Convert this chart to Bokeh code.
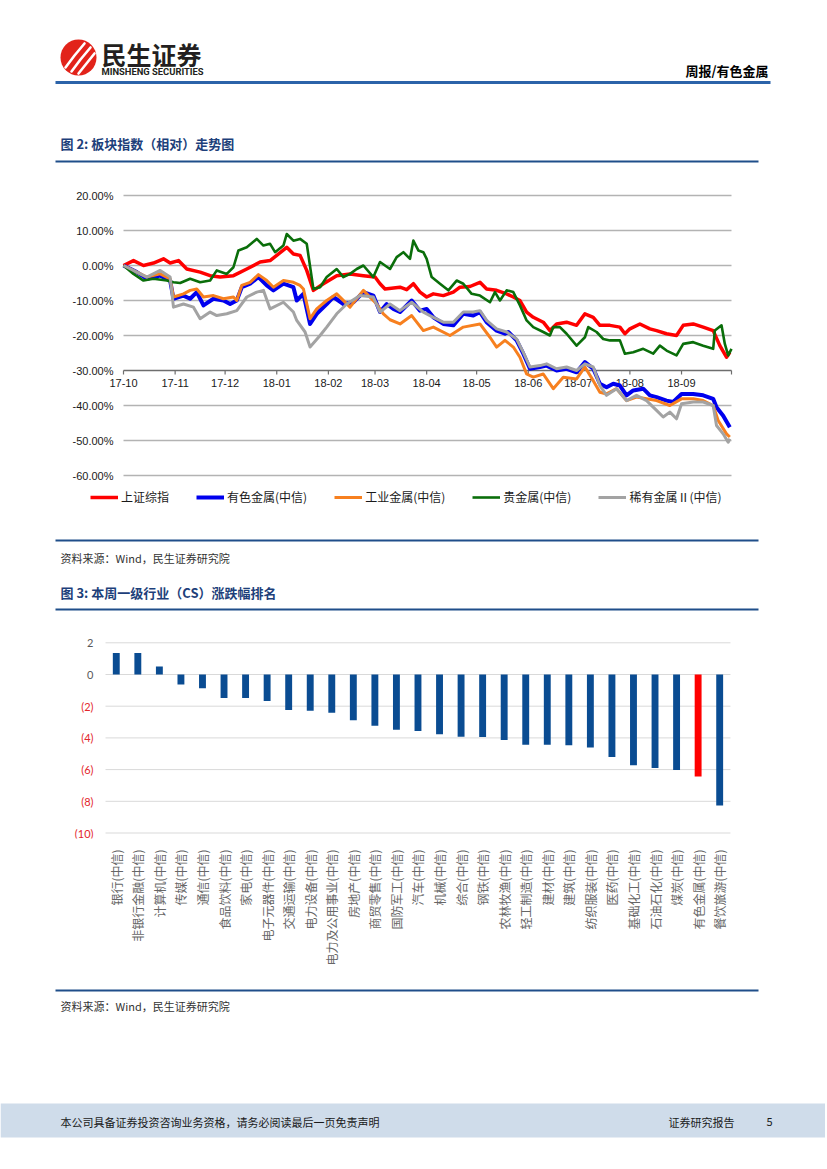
import math
from bokeh.plotting import figure
from bokeh.models import Range1d, FixedTicker, ColumnDataSource
from bokeh.layouts import column
from bokeh.embed import file_html
from bokeh.resources import INLINE
from bokeh.core.properties import value

# ---------------- data: chart 1 (days since 2017-10-01, % relative) ----------------
month_ticks = [0, 31, 61, 92, 123, 151, 182, 212, 243, 273, 304, 335]
month_labels = ["17-10", "17-11", "17-12", "18-01", "18-02", "18-03",
                "18-04", "18-05", "18-06", "18-07", "18-08", "18-09"]
period_end = 365
y1_ticks = [20, 10, 0, -10, -20, -30, -40, -50, -60]
axis_cross = -30

sh_days = [0, 6, 12, 18, 24, 28, 33, 38, 46, 52, 58, 66, 74, 82, 88, 92, 98, 102, 106, 110,
           114, 120, 128, 136, 144, 151, 154, 157, 166, 170, 174, 178, 182, 186, 192, 198, 202, 208, 214, 218,
           224, 230, 234, 238, 242, 246, 252, 256, 260, 266, 272, 277, 282, 286, 292, 298, 301, 304, 310, 316,
           320, 326, 332, 336, 342, 348, 354, 358, 362, 364]
sh_vals = [0.0, 1.4, 0.0, 0.7, 1.9, 0.7, 1.4, -1.0, -1.9, -2.9, -3.3, -2.9, -1.0, 1.0, 1.4, 2.9, 5.2, 3.3, 2.9, -1.4,
           -7.1, -5.2, -2.9, -2.4, -2.9, -3.3, -5.2, -6.7, -6.2, -6.9, -5.2, -7.6, -9.0, -8.1, -8.6, -7.6, -6.2, -6.0, -4.8, -6.7,
           -7.1, -8.1, -9.0, -10.0, -13.3, -14.8, -16.2, -18.6, -16.7, -16.2, -17.1, -13.8, -14.8, -17.1, -17.1, -17.6, -19.5, -18.1, -16.7, -18.1,
           -18.6, -19.5, -20.0, -17.1, -16.7, -17.6, -18.6, -22.9, -26.2, -24.8]

nf_days = [0, 8, 14, 22, 28, 30, 36, 40, 44, 48, 54, 60, 64, 68, 71, 76, 81, 86, 90, 96,
           102, 104, 108, 112, 116, 122, 126, 132, 138, 144, 150, 154, 158, 162, 166, 173, 178, 182, 186, 192,
           198, 204, 210, 214, 218, 224, 229, 231, 236, 240, 244, 250, 254, 260, 266, 272, 277, 282, 286, 290,
           294, 298, 302, 306, 312, 316, 320, 326, 330, 335, 342, 348, 354, 356, 360, 364]
nf_vals = [0.0, -1.9, -3.8, -2.9, -4.3, -9.5, -8.6, -9.5, -7.6, -11.4, -9.5, -10.0, -11.0, -10.0, -6.2, -5.2, -3.3, -5.7, -7.1, -5.2,
           -6.2, -10.0, -8.1, -16.7, -13.8, -11.0, -9.0, -11.0, -10.5, -7.6, -8.6, -13.3, -11.0, -12.4, -13.3, -10.0, -12.9, -12.4, -14.8, -16.7,
           -17.1, -13.8, -14.3, -13.3, -16.2, -18.6, -19.5, -19.0, -21.4, -25.2, -29.5, -29.0, -28.6, -30.0, -29.5, -30.5, -27.6, -29.5, -33.8, -34.8,
           -33.8, -34.3, -37.1, -35.7, -35.2, -37.1, -37.6, -38.6, -39.0, -36.7, -36.7, -37.1, -38.1, -40.5, -42.9, -46.2]

im_days = [0, 8, 14, 22, 28, 30, 36, 40, 44, 48, 54, 60, 66, 68, 71, 76, 81, 86, 90, 96,
           102, 106, 108, 112, 116, 122, 128, 136, 144, 152, 156, 160, 166, 173, 180, 186, 196, 204, 214, 220,
           224, 229, 234, 238, 242, 246, 252, 258, 264, 272, 277, 282, 286, 290, 296, 302, 308, 314, 320, 328,
           335, 342, 348, 354, 357, 362, 364]
im_vals = [0.0, -1.9, -3.3, -2.4, -3.8, -9.0, -8.1, -7.1, -6.7, -9.0, -8.6, -9.5, -9.0, -10.0, -5.7, -4.8, -2.6, -4.3, -6.2, -4.3,
           -4.8, -5.7, -6.7, -15.2, -12.4, -10.0, -8.1, -11.9, -7.1, -11.0, -13.8, -15.5, -16.7, -14.3, -18.6, -17.6, -20.0, -17.6, -16.7, -20.5,
           -23.3, -21.4, -23.3, -26.2, -31.0, -31.9, -31.0, -35.2, -31.9, -32.4, -29.0, -32.9, -36.2, -36.7, -35.2, -38.6, -37.6, -38.1, -38.6, -40.0,
           -38.1, -38.1, -38.6, -40.0, -44.3, -48.1, -49.0]

gd_days = [0, 6, 12, 18, 26, 30, 34, 40, 46, 52, 56, 62, 66, 69, 74, 80, 84, 88, 91, 96,
           98, 102, 106, 110, 114, 118, 122, 128, 132, 136, 140, 144, 150, 154, 160, 164, 168, 172, 174, 177,
           180, 182, 185, 190, 195, 200, 204, 209, 214, 220, 223, 226, 230, 234, 238, 242, 246, 252, 256, 258,
           262, 266, 272, 277, 279, 284, 288, 292, 298, 301, 306, 312, 318, 322, 326, 332, 336, 342, 348, 354,
           355, 359, 361, 363, 365]
gd_vals = [0.0, -2.4, -4.3, -3.8, -4.3, -4.8, -5.0, -3.8, -4.8, -4.3, -1.4, -2.4, -0.5, 4.3, 5.2, 7.6, 5.7, 6.2, 3.8, 5.7,
           9.0, 7.1, 7.6, 6.2, -6.7, -6.2, -3.3, -1.0, -3.3, -2.4, -1.0, 0.0, -3.3, 1.0, -1.0, 2.4, 3.8, 1.9, 7.1, 4.3,
           3.8, 1.9, -3.3, -5.2, -7.1, -4.3, -5.2, -8.1, -8.6, -10.5, -7.6, -10.0, -7.1, -7.6, -11.4, -15.7, -17.6, -19.0, -20.0, -17.6,
           -17.6, -19.5, -22.9, -20.5, -17.6, -19.0, -21.0, -21.4, -21.4, -25.2, -24.8, -23.8, -25.2, -22.9, -24.3, -25.7, -22.4, -21.9, -22.9, -23.8,
           -18.6, -17.1, -22.4, -25.7, -23.8]

rm_days = [0, 8, 14, 22, 28, 30, 36, 42, 46, 52, 56, 62, 68, 74, 80, 84, 88, 96, 102, 104,
           109, 112, 118, 122, 128, 134, 142, 150, 154, 160, 166, 173, 180, 186, 192, 198, 204, 210, 214, 218,
           224, 230, 236, 240, 244, 250, 254, 260, 266, 272, 277, 282, 286, 290, 296, 302, 308, 314, 320, 324,
           328, 332, 335, 342, 348, 354, 356, 360, 363, 364]
rm_vals = [0.0, -1.9, -3.3, -1.4, -3.3, -11.9, -11.0, -11.9, -15.2, -13.3, -14.3, -13.8, -12.9, -9.0, -7.6, -7.1, -12.4, -10.5, -13.3, -15.7,
           -19.0, -23.3, -20.0, -17.6, -13.8, -11.0, -8.6, -9.0, -13.3, -11.0, -12.9, -10.5, -13.3, -14.8, -16.2, -16.2, -13.3, -13.3, -12.9, -15.7,
           -18.1, -19.0, -21.0, -24.8, -29.0, -28.6, -28.1, -29.5, -29.0, -30.0, -28.1, -29.0, -34.3, -37.1, -35.2, -38.6, -37.1, -38.6, -41.4, -43.3,
           -41.9, -43.8, -39.5, -39.0, -39.0, -40.0, -45.7, -48.1, -50.5, -49.5]

series_names = ["上证综指", "有色金属(中信)", "工业金属(中信)", "贵金属(中信)", "稀有金属Ⅱ(中信)"]

# ---------------- data: chart 2 ----------------
industries = ["银行(中信)", "非银行金融(中信)", "计算机(中信)", "传媒(中信)", "通信(中信)",
              "食品饮料(中信)", "家电(中信)", "电子元器件(中信)", "交通运输(中信)", "电力设备(中信)",
              "电力及公用事业(中信)", "房地产(中信)", "商贸零售(中信)", "国防军工(中信)", "汽车(中信)",
              "机械(中信)", "综合(中信)", "钢铁(中信)", "农林牧渔(中信)", "轻工制造(中信)",
              "建材(中信)", "建筑(中信)", "纺织服装(中信)", "医药(中信)", "基础化工(中信)",
              "石油石化(中信)", "煤炭(中信)", "有色金属(中信)", "餐饮旅游(中信)"]
weekly_change = [1.36, 1.36, 0.50, -0.63, -0.86, -1.49, -1.49, -1.67, -2.24, -2.28,
                 -2.41, -2.89, -3.24, -3.49, -3.56, -3.77, -3.93, -3.95, -4.14, -4.44,
                 -4.44, -4.46, -4.60, -5.21, -5.73, -5.90, -6.03, -6.44, -8.26]
highlight = "有色金属(中信)"
y2_ticks = [2, 0, -2, -4, -6, -8, -10]

# ---------------- styling ----------------
W = 825
CJK = "Noto Sans CJK SC"
NAVY = "#1d3f7a"
RULE = "#1f4e8a"


def deco(top, bottom):
    p = figure(width=W, height=bottom - top, x_range=Range1d(0, W), y_range=Range1d(bottom, top),
               output_backend="svg", toolbar_location=None, min_border=0,
               x_axis_location=None, y_axis_location=None)
    p.grid.visible = False
    p.outline_line_color = None
    p.background_fill_color = "white"
    p.border_fill_color = "white"
    return p


def txt(p, x, y, s, size, color="#000000", font=CJK, bold=False, align="left"):
    p.text(x=[x], y=[y], text=[s], text_font=value(font), text_font_size=f"{size}px",
           text_color=color, text_align=align, text_baseline="middle",
           text_font_style="bold" if bold else "normal")


def rule(p, x0, x1, y, color=RULE, width=2):
    p.segment(x0=[x0], x1=[x1], y0=[y], y1=[y], line_color=color, line_width=width)


# ---------------- header + title 1 ----------------
pa = deco(0, 170)
pa.circle(x=[78], y=[57], radius=18, fill_color="#e2231a", line_color=None)
pa.multi_line(xs=[[65, 74, 84], [71, 80, 90], [78, 86, 94]],
              ys=[[67, 55, 43], [71, 59, 47], [73, 63, 53]],
              line_color="white", line_width=2.6, line_cap="round")
txt(pa, 101, 53, "民生证券", 25, "#231f20", bold=True)
txt(pa, 101, 71, "MINSHENG SECURITIES", 9.4, "#231f20", font="Roboto", bold=True)
txt(pa, 768, 70, "周报/有色金属", 13, "#000000", bold=True, align="right")
rule(pa, 55, 770, 82, color="#2b63a9", width=3)
txt(pa, 60, 143, "图 2:  板块指数（相对）走势图", 13, NAVY, bold=True)
rule(pa, 55, 758, 161)

# ---------------- chart 1 ----------------
PX_DAY = 608 / 365
PX_PCT = 3.5


def dx(px):
    return (px - 123) / PX_DAY


def dy(py):
    return (265 - py) / PX_PCT


p1 = figure(width=W, height=360, x_range=Range1d(dx(0), dx(W)), y_range=Range1d(dy(530), dy(170)),
            output_backend="svg", toolbar_location=None, min_border=0,
            x_axis_location=None, y_axis_location=None)
p1.grid.visible = False
p1.outline_line_color = None

grid_vals = [t for t in y1_ticks if t != axis_cross]
p1.segment(x0=0, x1=period_end, y0=grid_vals, y1=grid_vals, line_color="#b3b3b3", line_width=1.5)
p1.segment(x0=[0], x1=[period_end], y0=[axis_cross], y1=[axis_cross], line_color="#6e6e6e", line_width=1.5)
all_ticks = month_ticks + [period_end]
p1.segment(x0=all_ticks, x1=all_ticks, y0=axis_cross, y1=axis_cross - 4 / PX_PCT,
           line_color="#6e6e6e", line_width=1.2)
p1.text(x=dx(113), y=y1_ticks, text=[f"{v:.2f}%" for v in y1_ticks], text_font=value("Liberation Sans"),
        text_font_size="11px", text_color="#1a1a1a", text_align="right", text_baseline="middle")
p1.text(x=month_ticks, y=dy(382), text=month_labels, text_font=value("Liberation Sans"),
        text_font_size="11px", text_color="#1a1a1a", text_align="center", text_baseline="middle")

line_specs = [
    (sh_days, sh_vals, "#ff0000", 3.5),
    (nf_days, nf_vals, "#0000ee", 4.0),
    (im_days, im_vals, "#f7801f", 3.0),
    (gd_days, gd_vals, "#0a6e0a", 2.6),
    (rm_days, rm_vals, "#a3a3a3", 3.0),
]
for (xs, ys, col, lw), name in zip(line_specs, series_names):
    p1.line(xs, ys, line_color=col, line_width=lw, line_join="round", legend_label=name)

lg = p1.legend[0]
lg.location = (90, 25)
lg.orientation = "horizontal"
lg.glyph_width = 28
lg.glyph_height = 16
lg.label_height = 16
lg.label_standoff = 3
lg.spacing = 27
lg.padding = 0
lg.margin = 0
lg.border_line_color = None
lg.background_fill_alpha = 0
lg.label_text_font = CJK
lg.label_text_font_size = "12px"
lg.label_text_color = "#1a1a1a"

# ---------------- middle: source 1 + title 2 ----------------
pc = deco(530, 615)
rule(pc, 55, 758, 540)
txt(pc, 60, 557, "资料来源：Wind，民生证券研究院", 11, "#333333")
txt(pc, 60, 592, "图 3:  本周一级行业（CS）涨跌幅排名", 13, NAVY, bold=True)
rule(pc, 55, 758, 609)

# ---------------- chart 2 ----------------
PX_CAT = 21.55
PX_UNIT = 15.85


def ix(px):
    return (px - 115.78) / PX_CAT


def vy(py):
    return (674 - py) / PX_UNIT


n = len(industries)
p2 = figure(width=W, height=370, x_range=Range1d(ix(0), ix(W)), y_range=Range1d(vy(838), vy(615)),
            output_backend="svg", toolbar_location=None, min_border=0, min_border_bottom=147,
            y_axis_location=None)
p2.grid.visible = False
p2.outline_line_color = None

p2.segment(x0=-0.5, x1=n - 0.5, y0=y2_ticks, y1=y2_ticks, line_color="#d9d9d9", line_width=1)
ylab_src = ColumnDataSource(dict(
    y=y2_ticks,
    t=[str(v) if v >= 0 else f"({-v})" for v in y2_ticks],
    c=["#595959" if v >= 0 else "#e3262c" for v in y2_ticks]))
p2.text(x=ix(93), y="y", text="t", text_color="c", source=ylab_src, text_font=value("Lato"),
        text_font_size="11px", text_align="right", text_baseline="middle")

bar_src = ColumnDataSource(dict(
    x=list(range(n)), top=weekly_change,
    c=["#ff0000" if name == highlight else "#0a4c92" for name in industries]))
p2.vbar(x="x", top="top", bottom=0, width=0.32, fill_color="c", line_color=None, source=bar_src)

ax = p2.xaxis[0]
ax.ticker = FixedTicker(ticks=list(range(n)))
ax.major_label_overrides = {i: name for i, name in enumerate(industries)}
ax.major_label_orientation = math.pi / 2
ax.axis_line_color = None
ax.major_tick_line_color = None
ax.minor_tick_line_color = None
ax.major_label_standoff = 5
ax.major_label_text_font = CJK
ax.major_label_text_font_size = "12px"
ax.major_label_text_color = "#666666"

# ---------------- bottom: source 2 + footer ----------------
pe = deco(985, 1160)
rule(pe, 55, 758, 990)
txt(pe, 60, 1005, "资料来源：Wind，民生证券研究院", 11, "#333333")
pe.quad(left=[0], right=[W], top=[1103], bottom=[1137], fill_color="#cfdcea", line_color=None)
txt(pe, 60, 1121, "本公司具备证券投资咨询业务资格，请务必阅读最后一页免责声明", 11, "#1a1a1a")
txt(pe, 734, 1121, "证券研究报告", 11, "#1a1a1a", align="right")
txt(pe, 769, 1121, "5", 11, "#1a1a1a", align="center")

page = column(pa, p1, pc, p2, pe, spacing=0)
open("out.html", "w").write(file_html(page, INLINE))
